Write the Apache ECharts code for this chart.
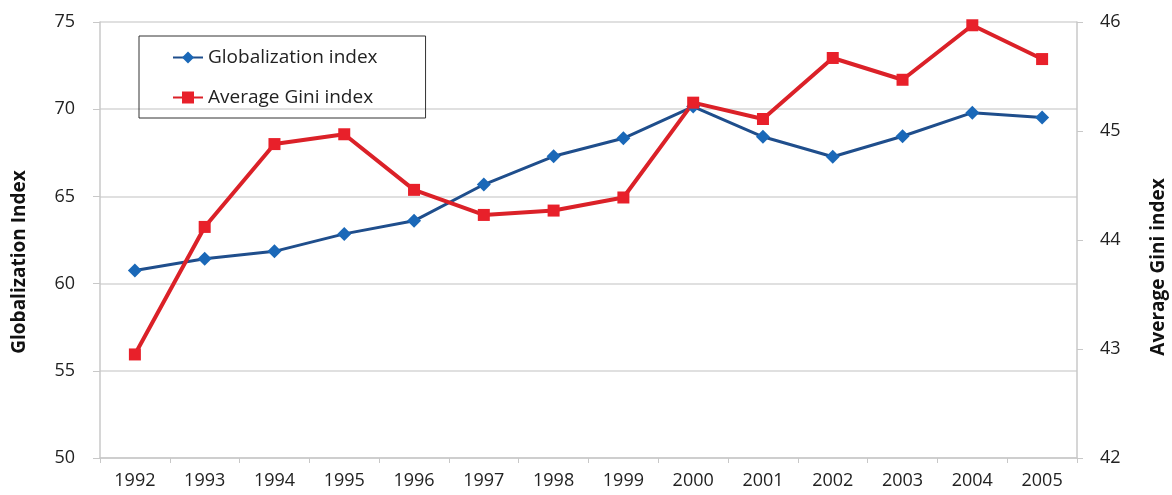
<!DOCTYPE html>
<html>
<head>
    <meta charset="utf-8">
    <title>Globalization and Gini</title>
    <style type="text/css">
        * {
            margin: 0;
            padding: 0;
        }

        #chart {
            width: 1172px;
            height: 495px;
            background: #fff;
        }
    </style>
</head>
<body>

<div id="chart"></div>

<script src="https://cdn.jsdelivr.net/npm/echarts@6/dist/echarts.min.js"></script>
<script type="text/javascript">

    let years = ['1992', '1993', '1994', '1995', '1996', '1997', '1998', '1999', '2000', '2001', '2002', '2003', '2004', '2005'];
    let globalization = [60.75, 61.42, 61.85, 62.85, 63.6, 65.68, 67.3, 68.33, 70.15, 68.42, 67.27, 68.45, 69.8, 69.52];
    let gini = [42.95, 44.12, 44.88, 44.97, 44.46, 44.23, 44.27, 44.39, 45.26, 45.11, 45.67, 45.47, 45.97, 45.66];

    let leftTicks = [50, 75, 5];     //  min, max, interval
    let rightTicks = [42, 46, 1];

    let fontFamily = '"Open Sans", "Noto Sans", sans-serif';
    let axisGray = '#c8c8c8';

    var myChart = echarts.init(document.getElementById('chart'));

    var option = {
        animation: false,
        textStyle: {
            fontFamily: fontFamily
        },
        grid: {
            left: 100,
            right: 95,
            top: 22,
            bottom: 37,
            outerBoundsMode: 'none'
        },
        legend: {
            orient: 'vertical',
            left: 139,
            top: 36,
            padding: [12, 48, 11, 33],
            itemGap: 21,
            itemWidth: 30,
            itemHeight: 15,
            borderColor: '#333',
            borderWidth: 1,
            borderRadius: 0,
            textStyle: {
                fontSize: 19,
                color: '#222',
                fontFamily: fontFamily
            },
            data: ['Globalization index', 'Average Gini index']
        },
        xAxis: {
            type: 'category',
            data: years,
            boundaryGap: true,
            axisLine: {
                lineStyle: {color: axisGray, width: 1.5}
            },
            axisTick: {
                show: true,
                length: 5,
                lineStyle: {color: axisGray}
            },
            axisLabel: {
                fontSize: 18,
                color: '#222',
                margin: 14
            },
            splitLine: {show: false}
        },
        yAxis: [
            {
                type: 'value',
                min: leftTicks[0],
                max: leftTicks[1],
                interval: leftTicks[2],
                name: 'Globalization Index',
                nameLocation: 'middle',
                nameRotate: 90,
                nameGap: 71,
                nameTextStyle: {
                    fontSize: 19,
                    fontWeight: 'bold',
                    color: '#111',
                    padding: [0, 44, 0, 0]
                },
                axisLine: {
                    show: true,
                    lineStyle: {color: axisGray, width: 1.5}
                },
                axisTick: {
                    show: true,
                    length: 7,
                    lineStyle: {color: axisGray}
                },
                axisLabel: {
                    fontSize: 18,
                    color: '#222',
                    margin: 25
                },
                splitLine: {
                    lineStyle: {color: '#d6d6d6', width: 1.5}
                }
            },
            {
                type: 'value',
                min: rightTicks[0],
                max: rightTicks[1],
                interval: rightTicks[2],
                position: 'right',
                name: 'Average Gini index',
                nameLocation: 'middle',
                nameRotate: 90,
                nameGap: 72,
                nameTextStyle: {
                    fontSize: 19,
                    fontWeight: 'bold',
                    color: '#111',
                    padding: [0, 54, 0, 0]
                },
                axisLine: {
                    show: true,
                    lineStyle: {color: axisGray, width: 1.5}
                },
                axisTick: {
                    show: true,
                    length: 6,
                    lineStyle: {color: axisGray}
                },
                axisLabel: {
                    fontSize: 18,
                    color: '#222',
                    margin: 23
                },
                splitLine: {show: false}
            }
        ],
        series: [
            {
                name: 'Globalization index',
                type: 'line',
                yAxisIndex: 0,
                data: globalization,
                symbol: 'diamond',
                symbolSize: 14,
                lineStyle: {color: '#1f4e8c', width: 3},
                itemStyle: {color: '#1a68b8'}
            },
            {
                name: 'Average Gini index',
                type: 'line',
                yAxisIndex: 1,
                data: gini,
                symbol: 'rect',
                symbolSize: 12,
                lineStyle: {color: '#db2128', width: 4},
                itemStyle: {color: '#e8202a'}
            }
        ]
    };

    myChart.setOption(option);
</script>
</body>
</html>
